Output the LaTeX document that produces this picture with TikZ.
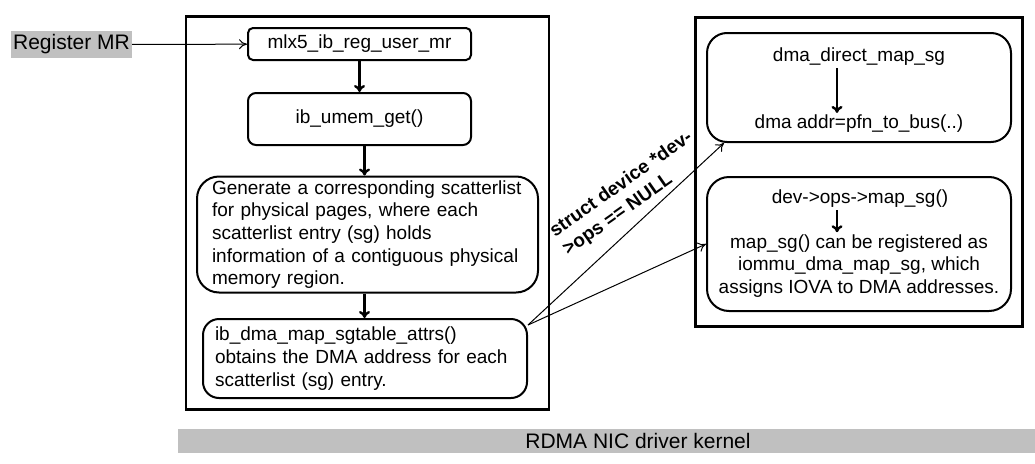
\documentclass[tikz,border=0pt]{standalone}
\usepackage{fontspec}
\setmainfont{Liberation Sans}
\usetikzlibrary{fit,arrows.meta}
\definecolor{barGray}{HTML}{C0C0C0}

\begin{document}
\begin{tikzpicture}[x=1pt,y=-1pt,
  roundbox/.style={draw=black,line width=2pt,rounded corners=#1},
  roundbox/.default=8pt,
  downarrow/.style={-{To[length=7pt,width=11pt]},line width=2.4pt},
  sidearrow/.style={-{To[length=8pt,width=10pt]},line width=1pt},
  every node/.style={font=\fontsize{19}{22.7}\selectfont}]
\useasboundingbox (0,0) rectangle (1035,463);

\node (RM) [fill=barGray,inner sep=0pt,minimum width=121pt,minimum height=27pt,font=\fontsize{21}{25}\selectfont] at (71.5,44.5) {Register MR};

\draw (359.5,44) node (M1) [roundbox=5pt,minimum width=223pt,minimum height=32pt] {mlx5\_ib\_reg\_user\_mr}
 +(0,75) node (M2) [roundbox,minimum width=223pt,minimum height=52pt] {ib\_umem\_get()}
 +(8,190.5) node (M3) [roundbox=22pt,minimum width=341pt,minimum height=116pt,text width=311pt,inner xsep=15pt,align=left] {Generate a corresponding scatterlist\\for physical pages, where each\\scatterlist entry (sg) holds\\information of a contiguous physical\\memory region.}
 +(5.5,314.5) node (M4) [roundbox=16pt,minimum width=324pt,minimum height=79pt,text width=300pt,inner xsep=12pt,align=left] {ib\_dma\_map\_sgtable\_attrs()\\obtains the DMA address for each\\scatterlist (sg) entry.};
\node (Q1) [draw=black,line width=2.4pt,inner xsep=10pt,inner ysep=10.5pt,fit={(M1) (M3) (M4)}] {};

\draw (859,87.5) node (R1) [roundbox=20pt,minimum width=304pt,minimum height=109pt] {}
 +(0,-30.5) node (R1a) [inner sep=2pt] {dma\_direct\_map\_sg}
 +(0,36.5) node (R1b) [inner sep=2pt] {dma addr=pfn\_to\_bus(..)}
 +(0,156.5) node (R2) [roundbox=22pt,minimum width=304pt,minimum height=134pt] {}
 +(1,111.5) node (R2a) [inner sep=2pt] {dev->ops->map\_sg()}
 +(0,178.5) node (R2b) [inner sep=2pt,align=center] {map\_sg() can be registered as\\iommu\_dma\_map\_sg, which\\assigns IOVA to DMA addresses.};
\node (Q2) [draw=black,line width=2.4pt,inner xsep=10.5pt,inner ysep=14.5pt,fit={(R1) (R2)}] {};

\draw[sidearrow] (RM) -- (M1);
\draw[downarrow] (M1.south) -- (M2.north);
\draw[downarrow] ([xshift=5pt]M2.south) -- ([xshift=-3pt]M3.north);
\draw[downarrow] ([xshift=-3pt]M3.south) -- ([xshift=-0.5pt]M4.north);
\draw[downarrow] ([xshift=-22pt]R1a.south) -- ([xshift=-22pt]R1b.north);
\draw[downarrow] ([xshift=-23pt]R2a.south) -- ([xshift=-22pt]R2b.north);

\coordinate (S) at ([yshift=-7pt]M4.north east);
\draw[sidearrow] (S) -- ([xshift=18pt]R1.south west);
\draw[sidearrow] (S) -- (R2.west);
\node (LB) [rotate=35,align=left,font=\fontsize{19}{23}\selectfont\bfseries] at (628,194) {struct device *dev-\\>ops == NULL};

\node (BAR) [fill=barGray,inner sep=0pt,minimum width=920pt,minimum height=24pt,font=\fontsize{21}{25}\selectfont] at (638,441) {RDMA NIC driver kernel};
\end{tikzpicture}
\end{document}
